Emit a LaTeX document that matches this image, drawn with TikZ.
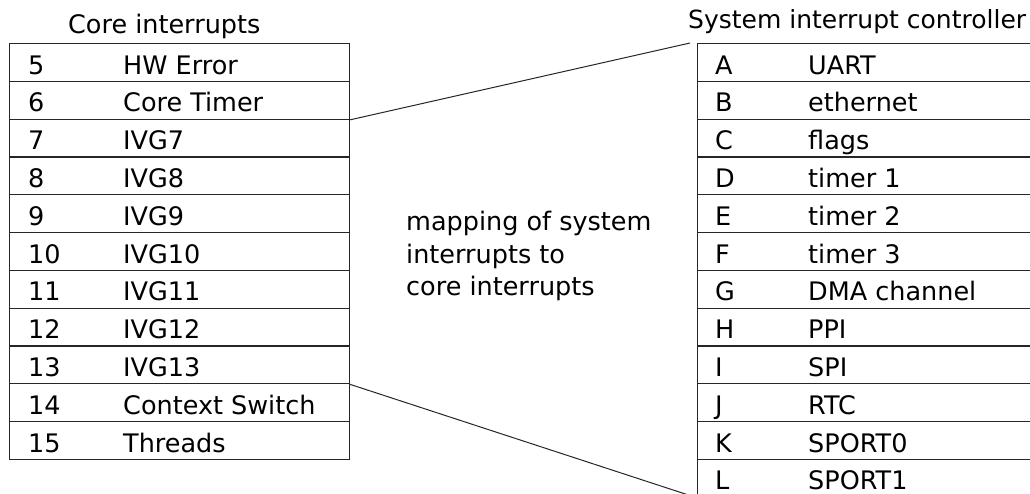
\documentclass[tikz,border=0pt]{standalone}
\usepackage{fontspec}
\setmainfont{DejaVu Sans}
\begin{document}
\begin{tikzpicture}[x=1pt,y=-1pt,
 cell/.style={draw=black!85, line width=1.2pt, minimum height=37.8pt, inner sep=0pt, anchor=north west},
 txt/.style={font=\fontsize{25.5}{30}\selectfont, anchor=base west, inner sep=0pt},
 conn/.style={draw=black!85, line width=1pt},
]
\useasboundingbox (0,0) rectangle (1030,493);
\clip (0,0) rectangle (1030,493);
\node[txt] (ctitle) at (68,33) {Core interrupts};
\node[txt, font=\fontsize{25}{30}\selectfont] (stitle) at (688,28) {System interrupt controller};
\foreach \n/\t [count=\i from 0] in {5/HW Error,6/Core Timer,7/IVG7,8/IVG8,9/IVG9,10/IVG10,11/IVG11,12/IVG12,13/IVG13,14/Context Switch,15/Threads} {
  \node[cell, minimum width=340pt] (c\n) at (9,{43+37.8*\i}) {};
  \node[txt] (cn\n) at (28,{74+37.8*\i}) {\n};
  \node[txt] (cl\n) at (123,{74+37.8*\i}) {\t};
}
\foreach \n/\t [count=\i from 0] in {A/UART,B/ethernet,C/flags,D/timer 1,E/timer 2,F/timer 3,G/DMA channel,H/PPI,I/SPI,J/RTC,K/SPORT0,L/SPORT1} {
  \node[cell, minimum width=350pt] (s\n) at (697,{43+37.8*\i}) {};
  \node[txt] (sn\n) at (715,{74+37.8*\i}) {\n};
  \node[txt] (sl\n) at (808,{74+37.8*\i}) {\t};
}
\node[txt] (m1) at (406,230) {mapping of system};
\node[txt] (m2) at (406,263) {interrupts to};
\node[txt] (m3) at (406,295) {core interrupts};
\draw[conn] (c6.south east) -- ([xshift=-7pt]sA.north west);
\draw[conn] (c13.south east) -- (sL.south west);
\end{tikzpicture}
\end{document}
